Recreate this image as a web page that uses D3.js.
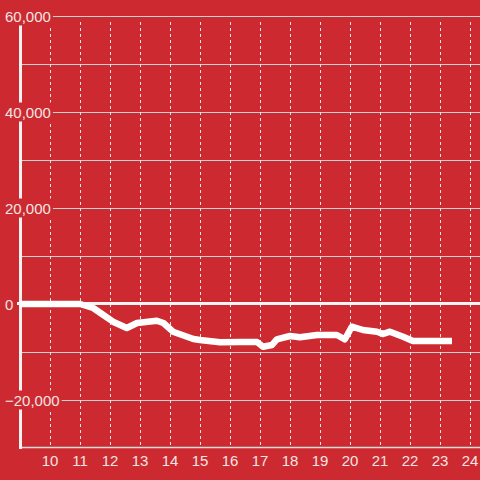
<!DOCTYPE html>
<html><head><meta charset="utf-8">
<script src="https://cdn.jsdelivr.net/npm/d3@7"></script>
<style>body{margin:0;background:#cc2a30}svg{display:block}</style>
</head><body>
<svg id="c" width="480" height="480"></svg>
<script>
const hours = [9, 11, 11.44, 11.78, 12.1, 12.56, 12.9, 13.56, 13.78, 14.1, 14.78, 15, 15.67, 16.33, 16.9, 17.1, 17.4, 17.56, 18, 18.33, 18.9, 19.56, 19.83, 20.06, 20.43, 20.9, 21.1, 21.33, 21.77, 22.1, 23.4];
const values = [0, 0, -833, -2292, -3688, -5000, -3958, -3479, -3958, -5771, -7292, -7500, -7979, -7917, -7917, -8896, -8542, -7354, -6667, -6938, -6458, -6458, -7354, -4729, -5417, -5771, -6250, -5771, -6813, -7708, -7708];
const xTicks = [10, 11, 12, 13, 14, 15, 16, 17, 18, 19, 20, 21, 22, 23, 24];
const yLabelTicks = [60000, 40000, 20000, 0, -20000];
const yMinorTicks = [50000, 30000, 10000, -10000];

const svg = d3.select("#c");
const x = d3.scaleLinear().domain([9, 24.333]).range([20, 480]);
const y = d3.scaleLinear().domain([-30000, 60000]).range([448, 16]);
const font = "Liberation Sans, Arial, sans-serif";

// horizontal gridlines
svg.append("g").selectAll("line").data(yLabelTicks.concat(yMinorTicks).filter(d => d !== 0))
  .join("line")
  .attr("x1", 21).attr("x2", 480)
  .attr("y1", d => y(d) + 0.5).attr("y2", d => y(d) + 0.5)
  .attr("stroke", "#d0d0d0").attr("stroke-width", 1);

// vertical dashed gridlines
svg.append("g").selectAll("line").data(xTicks).join("line")
  .attr("x1", d => x(d) + 0.5).attr("x2", d => x(d) + 0.5)
  .attr("y1", 22).attr("y2", 447)
  .attr("stroke", "#e6e6e6").attr("stroke-width", 1)
  .attr("stroke-dasharray", "3,3");

// bottom axis line
svg.append("line").attr("x1", 20).attr("x2", 480).attr("y1", 447.5).attr("y2", 447.5)
  .attr("stroke", "#dddddd").attr("stroke-width", 1.5);

// y axis line
svg.append("line").attr("x1", 20.5).attr("x2", 20.5).attr("y1", y(60000)).attr("y2", 449)
  .attr("stroke", "#f2f2f2").attr("stroke-width", 3);

// y labels with background
const yl = svg.append("g").selectAll("g").data(yLabelTicks).join("g");
yl.each(function(d) {
  const g = d3.select(this);
  const t = g.append("text").attr("x", 5).attr("y", y(d) + 5.5)
    .attr("font-family", font).attr("font-size", 15)
    .attr("fill", "#f4e4e4").text(d3.format(",")(d));
  const b = t.node().getBBox();
  g.insert("rect", "text").attr("x", b.x - 1).attr("y", b.y - 1)
    .attr("width", b.width + 3).attr("height", b.height + 2)
    .attr("fill", "#cc2a30");
});

// x labels
svg.append("g").selectAll("text").data(xTicks).join("text")
  .attr("x", d => x(d)).attr("y", 466)
  .attr("text-anchor", "middle")
  .attr("font-family", font).attr("font-size", 15)
  .attr("fill", "#f4e4e4").text(d => d);

// zero line
svg.append("line").attr("x1", 17).attr("x2", 480).attr("y1", y(0) - 0.5).attr("y2", y(0) - 0.5)
  .attr("stroke", "#f4f4f4").attr("stroke-width", 3);

// data line
const line = d3.line().x((d, i) => x(hours[i])).y(d => y(d));
svg.append("path").datum(values)
  .attr("d", line)
  .attr("fill", "none").attr("stroke", "#ffffff")
  .attr("stroke-width", 6.5).attr("stroke-linejoin", "round");
</script>
</body></html>
